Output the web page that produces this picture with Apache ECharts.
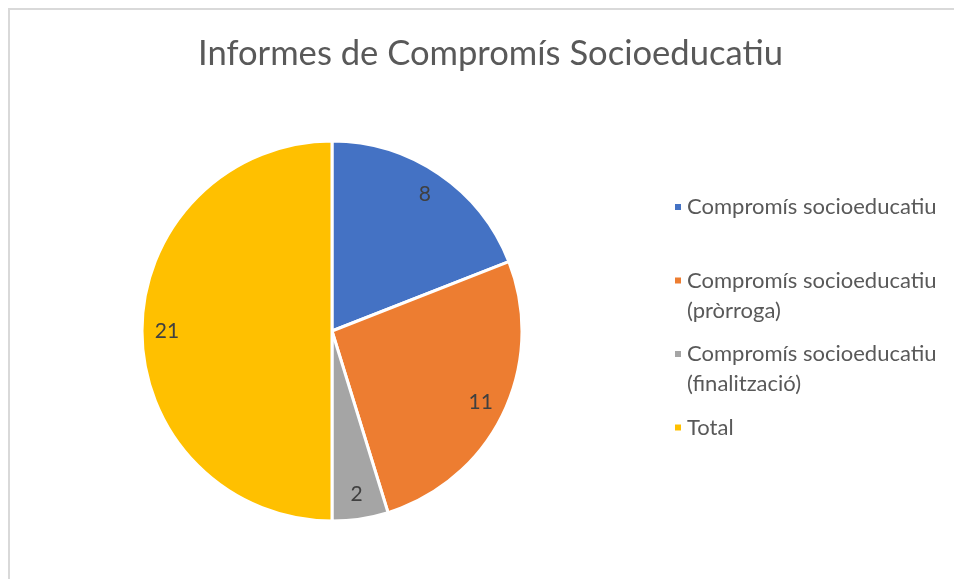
<!DOCTYPE html>
<html>
<head>
<meta charset="utf-8">
<script src="https://cdn.jsdelivr.net/npm/echarts@6/dist/echarts.min.js"></script>
<style>
  html, body { margin: 0; padding: 0; background: #fff; }
  #chart { width: 954px; height: 579px; }
</style>
</head>
<body>
<div id="chart"></div>
<script>
const title = 'Informes de Compromís Socioeducatiu';
const categories = [
  'Compromís socioeducatiu',
  'Compromís socioeducatiu (pròrroga)',
  'Compromís socioeducatiu (finalització)',
  'Total'
];
// first line shown in the legend, second line drawn below it
const legendLine1 = ['Compromís socioeducatiu', 'Compromís socioeducatiu', 'Compromís socioeducatiu', 'Total'];
const legendLine2 = ['', '(pròrroga)', '(finalització)', ''];
const values = [8, 11, 2, 21];
const colors = ['#4472C4', '#ED7D31', '#A5A5A5', '#FFC000'];

const font = 'Lato, "Open Sans", sans-serif';
const chart = echarts.init(document.getElementById('chart'));

const pieData = categories.map((name, i) => ({ name, value: values[i] }));

// legend layout
const legendLeft = 673;
const legendTop = 192;
const legendStep = 73.5;
const legendSize = 22;

const extraLines = [];
legendLine2.forEach((txt, i) => {
  if (!txt) return;
  extraLines.push({
    type: 'text',
    left: 687,
    top: legendTop + i * legendStep + 34,
    style: { text: txt, font: legendSize + 'px ' + font, fill: '#595959' }
  });
});

chart.setOption({
  animation: false,
  backgroundColor: '#fff',
  color: colors,
  title: {
    text: title,
    left: 193,
    top: 31,
    textStyle: { fontFamily: font, fontSize: 34.6, fontWeight: 'normal', color: '#595959' }
  },
  legend: {
    orient: 'vertical',
    left: legendLeft,
    top: legendTop,
    padding: 0,
    itemWidth: 8,
    itemHeight: 8,
    itemGap: legendStep - 30,
    icon: 'rect',
    formatter: name => legendLine1[categories.indexOf(name)],
    textStyle: { fontFamily: font, fontSize: legendSize, color: '#595959', lineHeight: 30 },
    data: categories
  },
  graphic: [
    {
      type: 'polyline',
      shape: { points: [[9, 600], [9, 9], [960, 9]] },
      style: { stroke: '#D9D9D9', lineWidth: 2, fill: null }
    }
  ].concat(extraLines),
  series: [
    {
      type: 'pie',
      center: [332, 331],
      radius: 190,
      startAngle: 90,
      clockwise: true,
      label: { show: false },
      labelLine: { show: false },
      itemStyle: { borderColor: '#fff', borderWidth: 3 },
      emphasis: { disabled: true },
      data: pieData
    },
    {
      // transparent ring only used to place the value labels near the rim
      type: 'pie',
      center: [332, 331],
      radius: [134, 190],
      startAngle: 90,
      clockwise: true,
      silent: true,
      itemStyle: { color: 'rgba(0,0,0,0)', borderWidth: 0 },
      label: {
        show: true,
        position: 'inside',
        formatter: '{c}',
        fontFamily: font,
        fontSize: 21,
        color: '#404040'
      },
      labelLine: { show: false },
      emphasis: { disabled: true },
      data: pieData
    }
  ]
});
</script>
</body>
</html>
